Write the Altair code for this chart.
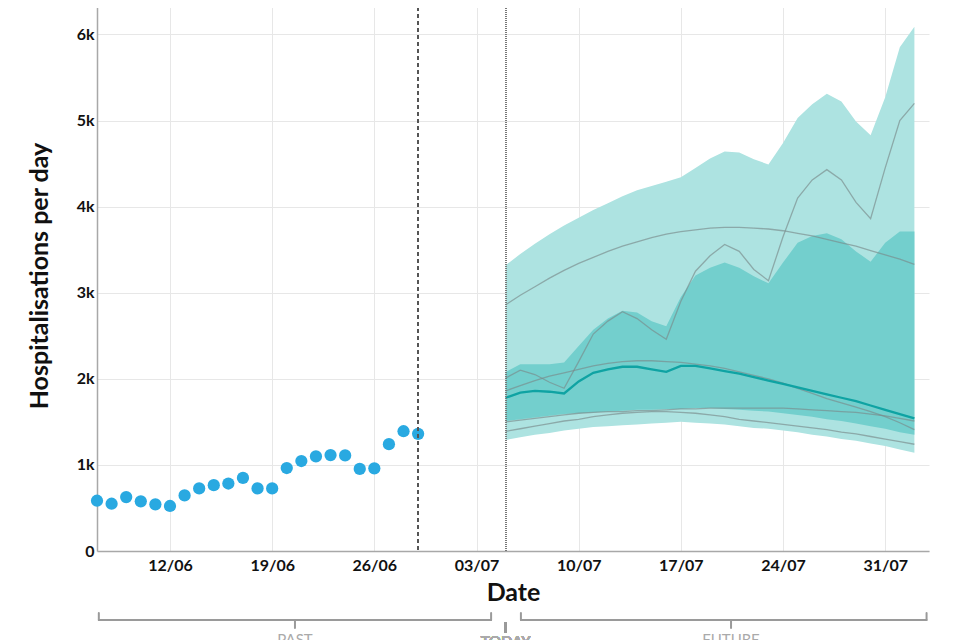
import altair as alt
import pandas as pd

# ---------------- data ----------------
past_start = "2021-06-07"
past_values = [584, 549, 626, 577, 542, 523, 646, 727, 765, 784, 849, 727, 727,
               964, 1045, 1099, 1114, 1110, 953, 960, 1241, 1391, 1361]

fc_start = "2021-07-05"
outer_hi = [3320, 3450, 3570, 3680, 3780, 3870, 3960, 4040, 4120, 4190, 4240, 4290,
            4340, 4450, 4560, 4640, 4630, 4550, 4490, 4740, 5030, 5190, 5310, 5220,
            4990, 4830, 5270, 5850, 6090]
outer_lo = [1290, 1320, 1350, 1370, 1400, 1420, 1440, 1450, 1460, 1470, 1480, 1490,
            1500, 1490, 1480, 1470, 1450, 1430, 1420, 1400, 1380, 1350, 1330, 1300,
            1280, 1250, 1220, 1180, 1140]
inner_hi = [2080, 2170, 2170, 2170, 2190, 2380, 2570, 2700, 2790, 2770, 2670, 2610,
            2950, 3200, 3290, 3350, 3290, 3190, 3110, 3350, 3580, 3660, 3690, 3620,
            3480, 3360, 3580, 3710, 3710]
inner_lo = [1510, 1530, 1550, 1570, 1590, 1600, 1610, 1620, 1630, 1640, 1640, 1650,
            1650, 1660, 1660, 1650, 1640, 1630, 1620, 1600, 1580, 1560, 1530, 1510,
            1480, 1450, 1420, 1380, 1350]
median = [1780, 1840, 1860, 1850, 1830, 1970, 2070, 2110, 2140, 2140, 2110, 2080,
          2150, 2150, 2120, 2090, 2060, 2020, 1980, 1940, 1900, 1860, 1820, 1780,
          1740, 1690, 1640, 1590, 1540]

scen_a = [2860, 2970, 3070, 3170, 3260, 3340, 3410, 3480, 3540, 3590, 3640, 3680,
          3710, 3730, 3750, 3760, 3760, 3750, 3740, 3720, 3690, 3660, 3620, 3580,
          3540, 3490, 3440, 3390, 3330]
scen_b = [2010, 2100, 2050, 1960, 1890, 2200, 2520, 2670, 2780, 2700, 2570, 2460,
          2900, 3250, 3430, 3560, 3480, 3270, 3140, 3650, 4100, 4310, 4430, 4310,
          4050, 3860, 4450, 5000, 5200]
scen_c = [1860, 1920, 1980, 2030, 2070, 2110, 2150, 2180, 2200, 2210, 2210, 2200,
          2190, 2170, 2150, 2120, 2080, 2040, 2000, 1950, 1890, 1830, 1770, 1720,
          1670, 1620, 1560, 1490, 1410]
scen_d = [1500, 1520, 1540, 1560, 1580, 1600, 1610, 1620, 1620, 1630, 1630, 1640,
          1650, 1650, 1660, 1660, 1660, 1660, 1660, 1660, 1650, 1640, 1630, 1620,
          1610, 1590, 1570, 1540, 1510]
scen_e = [1390, 1420, 1450, 1480, 1510, 1530, 1560, 1580, 1600, 1610, 1620, 1620,
          1610, 1600, 1580, 1560, 1530, 1510, 1490, 1470, 1450, 1430, 1410, 1380,
          1360, 1330, 1300, 1270, 1240]

x_ticks = ["2021-06-12", "2021-06-19", "2021-06-26", "2021-07-03",
           "2021-07-10", "2021-07-17", "2021-07-24", "2021-07-31"]
y_ticks = [0, 1000, 2000, 3000, 4000, 5000, 6000]
x_domain = ["2021-06-07", "2021-08-03"]
y_domain = [0, 6400]
last_obs = "2021-06-29"
today = "2021-07-05"

brackets = [
    {"label": "PAST", "start": "2021-06-07T03:00", "end": "2021-07-04T00:00", "mid": "2021-06-20T13:30"},
    {"label": "FUTURE", "start": "2021-07-06T01:00", "end": "2021-08-02T20:00", "mid": "2021-07-20T10:30"},
]

FONT = "Lato"


def dt(s):
    t = pd.Timestamp(s)
    return alt.DateTime(year=t.year, month=t.month, date=t.day,
                        hours=t.hour, utc=True)


# ---------------- frames ----------------
past_df = pd.DataFrame({
    "date": pd.date_range(past_start, periods=len(past_values), freq="D").strftime("%Y-%m-%d"),
    "value": past_values,
})
fc_dates = pd.date_range(fc_start, periods=len(median), freq="D").strftime("%Y-%m-%d")
fc_df = pd.DataFrame({
    "date": fc_dates, "outer_lo": outer_lo, "outer_hi": outer_hi,
    "inner_lo": inner_lo, "inner_hi": inner_hi, "median": median,
})
scen_rows = []
for name, vals in [("a", scen_a), ("b", scen_b), ("c", scen_c), ("d", scen_d), ("e", scen_e)]:
    for d, v in zip(fc_dates, vals):
        scen_rows.append({"date": d, "scenario": name, "value": v})
scen_df = pd.DataFrame(scen_rows)
br_df = pd.DataFrame(brackets)

# ---------------- encodings ----------------
x_scale = alt.Scale(type="utc", domain=[dt(x_domain[0]), dt(x_domain[1])])
x_axis = alt.Axis(values=[dt(v) for v in x_ticks], format="%d/%m", formatType="utc",
                  labelExpr="utcFormat(datum.value, '%d/%m')", title="Date")
y_scale = alt.Scale(domain=y_domain, nice=False)
y_axis = alt.Axis(values=y_ticks, title="Hospitalisations per day",
                  labelExpr="datum.value == 0 ? '0' : format(datum.value / 1000, 'd') + 'k'")


def X(field):
    return alt.X(f"{field}:T", scale=x_scale, axis=x_axis)


def XD(s):
    return alt.XDatum(dt(s), type="temporal", scale=x_scale, axis=x_axis)


def Y(field):
    return alt.Y(f"{field}:Q", scale=y_scale, axis=y_axis)


outer = alt.Chart(fc_df).mark_area(color="#ade3e1").encode(
    x=X("date"), y=Y("outer_lo"), y2="outer_hi:Q")
inner = alt.Chart(fc_df).mark_area(color="#73cfcd").encode(
    x=X("date"), y=Y("inner_lo"), y2="inner_hi:Q")
scen = alt.Chart(scen_df).mark_line(color="#7a8a8a", strokeWidth=1.3, opacity=0.65).encode(
    x=X("date"), y=Y("value"), detail="scenario:N")
med = alt.Chart(fc_df).mark_line(color="#0fa3a3", strokeWidth=2.3).encode(
    x=X("date"), y=Y("median"))
dots = alt.Chart(past_df).mark_circle(size=150, color="#29a9e1", opacity=1).encode(
    x=X("date"), y=Y("value"))

rule_obs = alt.Chart(past_df).mark_rule(color="#555555", strokeDash=[4, 3], strokeWidth=1).encode(
    x=XD(last_obs))
rule_today = alt.Chart(past_df).mark_rule(color="#777777", strokeDash=[1, 1], strokeWidth=1.2).encode(
    x=XD(today))

# ---------------- bracket annotations below the axis ----------------
BR = "#9a9a9a"
br_h = alt.Chart(br_df).mark_rule(color=BR, strokeWidth=2, strokeCap="round").encode(
    x=X("start"), x2="end:T", y=alt.value(620))
br_l = alt.Chart(br_df).mark_rule(color=BR, strokeWidth=2, strokeCap="round").encode(
    x=X("start"), y=alt.value(613), y2=alt.value(620))
br_r = alt.Chart(br_df).mark_rule(color=BR, strokeWidth=2, strokeCap="round").encode(
    x=X("end"), y=alt.value(613), y2=alt.value(620))
br_m = alt.Chart(br_df).mark_rule(color=BR, strokeWidth=2, strokeCap="round").encode(
    x=X("mid"), y=alt.value(620), y2=alt.value(628))
br_t = alt.Chart(br_df).mark_text(color="#aaaaaa", font=FONT, fontSize=15, baseline="top").encode(
    x=X("mid"), y=alt.value(633), text="label:N")
today_line = alt.Chart(past_df).mark_rule(color=BR, strokeWidth=2).encode(
    x=XD(today), y=alt.value(622), y2=alt.value(633))
today_text = alt.Chart(past_df).mark_text(color="#aaaaaa", font=FONT, fontSize=15, baseline="top",
                                          text="TODAY").encode(
    x=XD(today), y=alt.value(635))

chart = alt.layer(
    outer, inner, scen, med, dots, rule_obs, rule_today,
    br_h, br_l, br_r, br_m, br_t, today_line, today_text,
).properties(
    width=832, height=551,
    autosize=alt.AutoSizeParams(type="none"),
    padding={"left": 89, "top": -8, "right": 22, "bottom": 97},
    background="white",
).configure_view(
    stroke="transparent"
).configure_axis(
    labelFont=FONT, labelFontWeight="bold", labelFontSize=16, labelColor="#111111",
    titleFont=FONT, titleFontWeight="bold", titleColor="#111111",
    domainColor="#a8a8a8", domainWidth=1.5, gridColor="#e7e7e7", gridWidth=1,
    ticks=False,
).configure_axisX(
    labelPadding=6, titleFontSize=25, titlePadding=7,
).configure_axisY(
    labelPadding=3, titleFontSize=25, titlePadding=24,
)

chart.save("out.html", embed_options={"renderer": "svg", "actions": False})
